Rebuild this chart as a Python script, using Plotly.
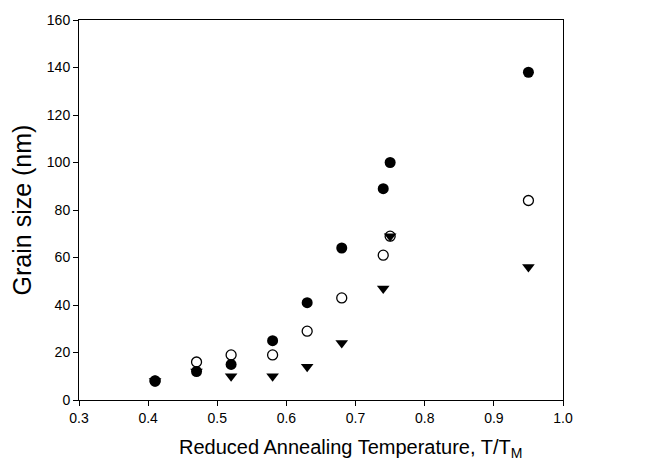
import plotly.graph_objects as go

x_vals = [0.41, 0.47, 0.52, 0.58, 0.63, 0.68, 0.74, 0.75, 0.95]
filled = [8, 12, 15, 25, 41, 64, 89, 100, 138]
open_c = [8, 16, 19, 19, 29, 43, 61, 69, 84]
tri_x = [0.41, 0.47, 0.52, 0.58, 0.63, 0.68, 0.74, 0.75, 0.95]
tri = [8, 12, 10, 10, 14, 24, 47, 69, 56]
x_ticks = [0.3, 0.4, 0.5, 0.6, 0.7, 0.8, 0.9, 1.0]
x_ticktext = ["0.3", "0.4", "0.5", "0.6", "0.7", "0.8", "0.9", "1.0"]
y_ticks = [0, 20, 40, 60, 80, 100, 120, 140, 160]

FONT = "Liberation Sans, Arial, sans-serif"

fig = go.Figure()
fig.add_trace(go.Scatter(x=x_vals, y=filled, mode="markers",
                         marker=dict(symbol="circle", size=11, color="black",
                                     line=dict(color="black", width=0))))
fig.add_trace(go.Scatter(x=x_vals, y=open_c, mode="markers",
                         marker=dict(symbol="circle-open", size=10, color="black",
                                     line=dict(color="black", width=1.3))))
fig.add_trace(go.Scatter(x=tri_x, y=tri, mode="markers",
                         marker=dict(symbol="triangle-down", size=11, color="black",
                                     line=dict(color="black", width=0))))

axis_common = dict(showgrid=False, zeroline=False, showline=True, linecolor="black",
                   linewidth=1, ticks="outside", ticklen=5, tickcolor="black",
                   automargin=False,
                   tickfont=dict(family=FONT, size=14, color="black"))

# page body has an 8px default margin, so the figure is offset by 8px
fig.update_layout(
    width=647, height=453,
    margin=dict(l=71, r=92, t=12, b=61),
    paper_bgcolor="white", plot_bgcolor="white",
    showlegend=False,
    font=dict(family=FONT, color="black"),
    xaxis=dict(range=[0.3, 1.0], tickvals=x_ticks, ticktext=x_ticktext,
               mirror=True, **axis_common),
    yaxis=dict(range=[0, 160], tickvals=y_ticks, mirror=True,
               title=dict(text="Grain size (nm)", font=dict(size=25), standoff=8),
               **axis_common),
    annotations=[dict(text="Reduced Annealing Temperature, T/T<sub>M</sub>",
                      xref="paper", yref="paper", x=0.56, y=0, yshift=-34,
                      xanchor="center", yanchor="top", showarrow=False,
                      font=dict(family=FONT, size=20, color="black"))],
)
fig.write_html("out.html")
